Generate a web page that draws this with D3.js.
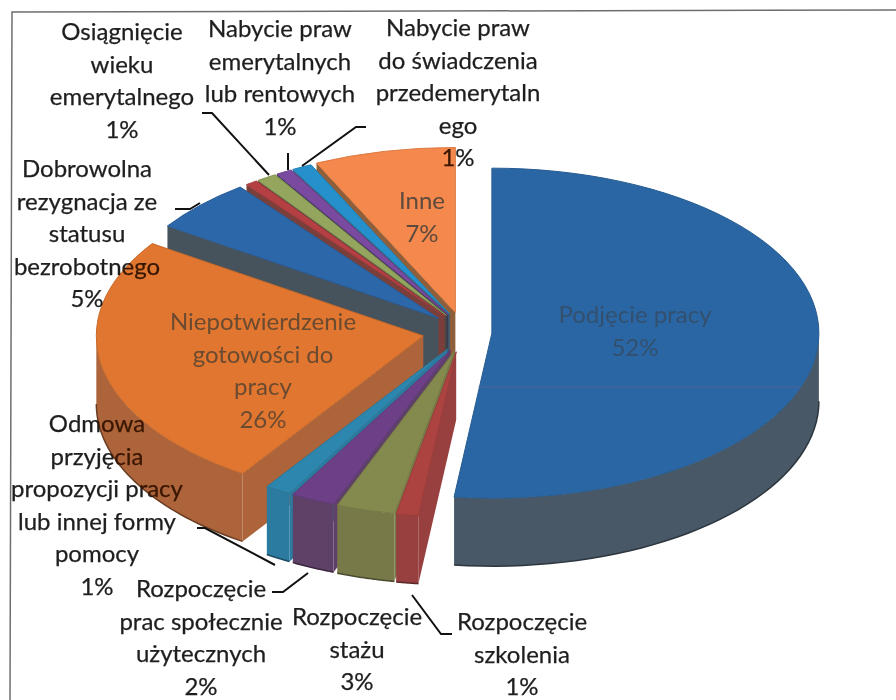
<!DOCTYPE html>
<html lang="pl">
<head>
    <meta charset="UTF-8">
    <title>Przyczyny wyłączenia z ewidencji</title>
    <script src="https://d3js.org/d3.v7.min.js"></script>
    <style>
        body { margin: 0; background: #fff; }
        text { font-family: Lato, "Open Sans", sans-serif; font-size: 24px; text-anchor: middle; }
        .outer text { fill: #1e1e1e; stroke: #1e1e1e; stroke-width: 0.25px; mix-blend-mode: luminosity; }
    </style>
</head>
<body>
    <div id="chart"></div>
    <script>
        // Values, clockwise from 12 o'clock
        const sliceNames = [
            "Podjęcie pracy", "Rozpoczęcie szkolenia", "Rozpoczęcie stażu",
            "Rozpoczęcie prac społecznie użytecznych", "Odmowa przyjęcia propozycji pracy lub innej formy pomocy",
            "Niepotwierdzenie gotowości do pracy", "Dobrowolna rezygnacja ze statusu bezrobotnego",
            "Inne (bez etykiety)", "Osiągnięcie wieku emerytalnego", "Nabycie praw emerytalnych lub rentowych",
            "Nabycie praw do świadczenia przedemerytalnego", "Inne"
        ];
        const sliceValues = [52, 1.1, 2.9, 2.2, 1.3, 25.2, 5.2, 0.6, 1, 0.8, 1, 7];
        const topColors = ["#2a66a3", "#ad4340", "#848a4e", "#6d3f86", "#2d86ae", "#e0762f",
                           "#2c67a9", "#b54044", "#94a55d", "#7a4aa0", "#2590cc", "#f5884c"];
        const wallColors = ["#485866", "#984040", "#777a48", "#5f4168", "#2b7aa0", "#ad643a",
                            "#46525c", "#7a3f3a", "#4a4a40", "#3a3a50", "#3f5a70", "#8e5f3a"];

        const outerLabels = [
            ["Osiągnięcie", "wieku", "emerytalnego", "1%"],
            ["Nabycie praw", "emerytalnych", "lub rentowych", "1%"],
            ["Nabycie praw", "do świadczenia", "przedemerytaln", "ego", "1%"],
            ["Dobrowolna", "rezygnacja ze", "statusu", "bezrobotnego", "5%"],
            ["Odmowa", "przyjęcia", "propozycji pracy", "lub innej formy", "pomocy", "1%"],
            ["Rozpoczęcie", "prac społecznie", "użytecznych", "2%"],
            ["Rozpoczęcie", "stażu", "3%"],
            ["Rozpoczęcie", "szkolenia", "1%"]
        ];
        const innerLabels = [
            ["Inne", "7%"],
            ["Niepotwierdzenie", "gotowości do", "pracy", "26%"],
            ["Podjęcie pracy", "52%"]
        ];

        // Layout
        const width = 896, height = 700;
        const cx = 457, cy = 332;      // pie centre before the slices are pulled out
        const rx = 327, ry = 165;      // top face ellipse
        const depth = 68;              // wall height
        const pull = 35, pullY = 20;   // explosion distance across / down the page
        const lineStep = 32.5;

        const outerAnchors = [[122, 40], [280, 37], [458, 36], [87, 177], [97, 432], [201, 597], [357, 625], [522, 630]];
        const innerAnchors = [[422, 209], [263, 330], [635, 323]];
        const innerInk = ["#5c4a3c", "#6a4a30", "#33506e"];
        const leaders = [
            [[202, 113], [212, 113], [269, 175]],
            [[288, 153], [288, 170]],
            [[366, 127], [356, 127], [302, 166]],
            [[175, 209], [190, 209], [200, 203]],
            [[197, 528], [205, 528], [275, 565]],
            [[272, 592], [283, 592], [308, 573]],
            [[412, 595], [441, 634], [452, 634]]
        ];

        const svg = d3.select("#chart").append("svg")
            .attr("width", width).attr("height", height);

        // scan frame
        svg.append("path").attr("d", d3.line()([[10, height], [12, 12], [width, 10]]))
            .attr("fill", "none").attr("stroke", "#6e6e6e").attr("stroke-width", 1.5);

        const pie = d3.pie().sort(null).value(d => d)(sliceValues);
        const arc = d3.arc().innerRadius(0).outerRadius(1).digits(5);

        // unit circle to page offset
        const xScale = d3.scaleLinear().domain([-1, 1]).range([-rx, rx]);
        const yScale = d3.scaleLinear().domain([-1, 1]).range([-ry, ry]);
        const edge = t => [xScale(Math.sin(t)), yScale(-Math.cos(t))];
        const line = d3.line();

        const HALF = Math.PI / 2;
        // back slices first, so the front ones cover their walls
        const order = d3.range(pie.length).reverse();

        order.forEach(i => {
            const d = pie[i];
            const mid = (d.startAngle + d.endAngle) / 2;
            const s = Math.sin(mid);
            const dx = pull * Math.sign(s) * s * s;
            const dy = -pullY * Math.cos(mid);
            const g = svg.append("g").attr("transform", `translate(${cx + dx},${cy + dy})`);

            // radial wall on the start side
            if (Math.sin(d.startAngle) < -1e-6) {
                const p = edge(d.startAngle);
                g.append("path")
                    .attr("d", line([[0, 0], p, [p[0], p[1] + depth], [0, depth]]) + "Z")
                    .attr("fill", wallColors[i]);
            }

            // outer wall, only the part facing the viewer
            const a0 = Math.max(d.startAngle, HALF), a1 = Math.min(d.endAngle, 3 * HALF);
            if (a1 > a0) {
                const steps = d3.range(0, 41).map(k => a0 + (a1 - a0) * k / 40);
                const rim = steps.map(edge);
                const low = rim.map(p => [p[0], p[1] + depth]);
                g.append("path")
                    .attr("d", line(rim.concat(low.slice().reverse())) + "Z")
                    .attr("fill", wallColors[i]);
                g.append("path")
                    .attr("d", line(low))
                    .attr("fill", "none")
                    .attr("stroke", d3.color(wallColors[i]).darker(1.4))
                    .attr("stroke-width", 1.5);
            }

            // top face
            g.append("path")
                .attr("d", arc(d))
                .attr("transform", `scale(${rx},${ry})`)
                .attr("fill", topColors[i])
                .attr("stroke", d3.color(topColors[i]).darker(0.3))
                .attr("stroke-width", 1)
                .attr("vector-effect", "non-scaling-stroke");
        });

        // faint scanner streak across the big slice
        svg.append("line")
            .attr("x1", 478).attr("x2", 800).attr("y1", 387).attr("y2", 387)
            .attr("stroke", "#8a5f92").attr("stroke-opacity", 0.4);

        // leader lines
        svg.append("g").selectAll("path").data(leaders).join("path")
            .attr("d", d => line(d))
            .attr("fill", "none")
            .attr("stroke", "#111")
            .attr("stroke-width", 2);

        // labels
        function drawLabel(parent, lines, pos, ink) {
            const t = parent.append("text").attr("x", pos[0]).attr("y", pos[1]);
            if (ink) t.attr("fill", ink);
            t.selectAll("tspan").data(lines).join("tspan")
                .attr("x", pos[0])
                .attr("y", (d, k) => pos[1] + k * lineStep)
                .text(d => d);
        }
        const outerG = svg.append("g").attr("class", "outer");
        outerLabels.forEach((lines, i) => drawLabel(outerG, lines, outerAnchors[i]));
        innerLabels.forEach((lines, i) => drawLabel(svg, lines, innerAnchors[i], innerInk[i]));
    </script>
</body>
</html>
